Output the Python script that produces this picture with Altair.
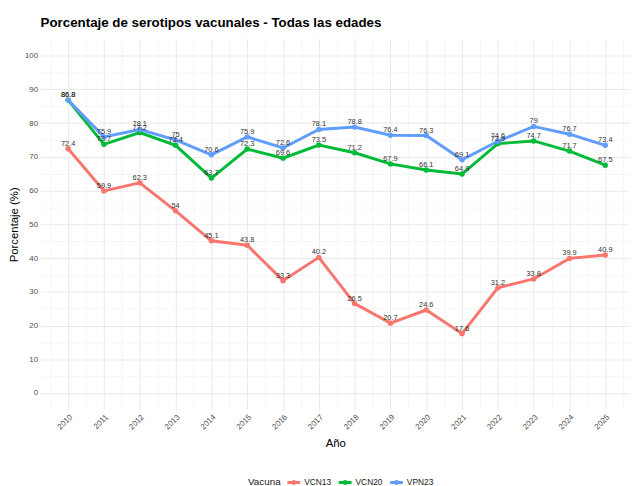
import altair as alt
import pandas as pd

years = list(range(2010, 2026))
vcn13 = [72.4, 59.9, 62.3, 54, 45.1, 43.8, 33.3, 40.2, 26.5, 20.7, 24.6, 17.6, 31.2, 33.8, 39.9, 40.9]
vcn20 = [86.8, 73.7, 77.2, 73.4, 63.7, 72.3, 69.6, 73.5, 71.2, 67.9, 66.1, 64.9, 73.9, 74.7, 71.7, 67.5]
vpn23 = [86.8, 75.9, 78.1, 75, 70.6, 75.9, 72.6, 78.1, 78.8, 76.4, 76.3, 69.1, 74.6, 79, 76.7, 73.4]
series = ["VCN13", "VCN20", "VPN23"]
colors = ["#F8766D", "#00BA38", "#619CFF"]

y_major = list(range(0, 101, 10))
y_minor = list(range(5, 100, 10))
x_minor = [y + 0.5 for y in range(2009, 2026)]

rows = []
for name, vals in zip(series, [vcn13, vcn20, vpn23]):
    for yr, v in zip(years, vals):
        rows.append({"Año": yr, "Vacuna": name, "Porcentaje": v, "label": f"{v:g}"})
df = pd.DataFrame(rows)

FONT = "Liberation Sans"

xscale = alt.Scale(domain=[2009.23, 2025.69], nice=False, zero=False)
yscale = alt.Scale(domain=[-5, 105], nice=False, zero=False)
cscale = alt.Scale(domain=series, range=colors)

legend = alt.Legend(
    orient="none", direction="horizontal", titleOrient="left",
    legendX=210, legendY=443,
    symbolType="M-1,-0.22L1,-0.22L1,0.22L-1,0.22Z M0.4,0A0.4,0.4 0 1,1 -0.4,0A0.4,0.4 0 1,1 0.4,0Z",
    symbolSize=169, symbolStrokeWidth=0,
    labelFont=FONT, labelFontSize=8.5, labelColor="#1a1a1a",
    titleFont=FONT, titleFontSize=10, titleFontWeight="normal", titleColor="#1a1a1a",
    columnPadding=7, labelOffset=4, titlePadding=6,
)

base = alt.Chart(df)

x_major_axis = alt.Axis(
    values=years, format="d", labelAngle=-45, labelAlign="right", labelBaseline="top",
    labelFont=FONT, labelFontSize=8, labelColor="#4D4D4D", labelPadding=3,
    ticks=False, domain=False, grid=True, gridColor="#EBEBEB", gridWidth=1.1,
    title="Año", titleFont=FONT, titleFontSize=11.5, titleFontWeight="normal",
    titleColor="#000000", titlePadding=7,
)
y_major_axis = alt.Axis(
    values=y_major, labelFont=FONT, labelFontSize=8, labelColor="#4D4D4D",
    labelPadding=3, ticks=False, domain=False, grid=True, gridColor="#EBEBEB",
    gridWidth=1.1, title="Porcentaje (%)", titleFont=FONT, titleFontSize=11.5,
    titleFontWeight="normal", titleColor="#000000", titlePadding=5,
)
x_minor_axis = alt.Axis(
    values=x_minor, labels=False, ticks=False, domain=False, grid=True,
    gridColor="#F2F2F2", gridWidth=0.7, title=None, orient="bottom",
)
y_minor_axis = alt.Axis(
    values=y_minor, labels=False, ticks=False, domain=False, grid=True,
    gridColor="#F2F2F2", gridWidth=0.7, title=None, orient="left",
)

lines = base.mark_line(strokeWidth=3).encode(
    x=alt.X("Año:Q", scale=xscale, axis=x_major_axis),
    y=alt.Y("Porcentaje:Q", scale=yscale, axis=y_major_axis),
    color=alt.Color("Vacuna:N", scale=cscale, legend=legend),
)

points = base.mark_point(filled=True, size=30, opacity=1).encode(
    x=alt.X("Año:Q", scale=xscale, axis=x_minor_axis),
    y=alt.Y("Porcentaje:Q", scale=yscale, axis=y_minor_axis),
    color=alt.Color("Vacuna:N", scale=cscale, legend=legend),
)

texts = base.mark_text(
    font=FONT, fontSize=7.5, color="#333333", baseline="alphabetic", dy=-3
).encode(
    x=alt.X("Año:Q", scale=xscale, axis=None),
    y=alt.Y("Porcentaje:Q", scale=yscale, axis=None),
    text="label:N",
)

chart = alt.layer(lines, points, texts).resolve_axis(
    x="independent", y="independent"
).properties(
    width=597, height=376,
    autosize=alt.AutoSizeParams(type="none"),
    padding={"left": 33, "top": 28, "right": 0, "bottom": 74},
    background="white",
    title=alt.TitleParams(
        "Porcentaje de serotipos vacunales - Todas las edades",
        anchor="start", frame="group", font=FONT, fontSize=13.5, fontWeight="bold",
        color="#000000", offset=9,
    ),
).configure_view(stroke=None)

chart.save("out.html", embed_options={"renderer": "svg", "actions": False})
